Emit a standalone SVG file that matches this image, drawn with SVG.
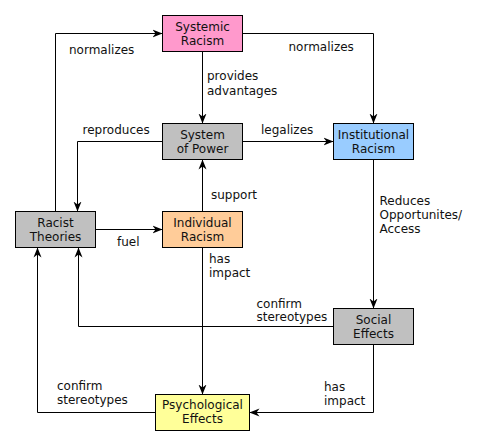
<svg xmlns="http://www.w3.org/2000/svg" width="486" height="446" viewBox="0 0 486 446">
<style>
.box{stroke:#000;stroke-width:1}
.t{font-family:"DejaVu Sans",sans-serif;font-size:12px;fill:#111}
.c{text-anchor:middle}
.ln{fill:none;stroke:#000;stroke-width:1;marker-end:url(#ah)}
</style>
<defs>
<marker id="ah" viewBox="0 0 10 10" refX="10" refY="5" markerWidth="10" markerHeight="10" markerUnits="userSpaceOnUse" orient="auto">
<path d="M0,1 L10,5 L0,9 L3,5 z" fill="#000"/>
</marker>
</defs>
<rect width="486" height="446" fill="#fff"/>
<g id="connectors">
<path class="ln" d="M55.5,211.5 V33.5 H162.5"/>
<path class="ln" d="M242.5,33.5 H373.5 V123.5"/>
<path class="ln" d="M202.5,51.5 V123.5"/>
<path class="ln" d="M162.5,141.5 H77.5 V211.5"/>
<path class="ln" d="M242.5,141.5 H333.5"/>
<path class="ln" d="M202.5,211.5 V159.5"/>
<path class="ln" d="M95.5,229.5 H162.5"/>
<path class="ln" d="M373.5,159.5 V308.5"/>
<path class="ln" d="M202.5,247.5 V394.5"/>
<path class="ln" d="M333.5,326.5 H78.5 V247.5"/>
<path class="ln" d="M373.5,344.5 V412.5 H249.5"/>
<path class="ln" d="M155.5,412.5 H37.5 V247.5"/>
<text class="t" x="69" y="54">normalizes</text>
<text class="t" x="288.5" y="51">normalizes</text>
<text class="t" x="207" y="80">provides</text>
<text class="t" x="207" y="94.5">advantages</text>
<text class="t" x="82.5" y="133.5">reproduces</text>
<text class="t" x="261" y="133.5">legalizes</text>
<text class="t" x="211" y="198.5">support</text>
<text class="t" x="117" y="245.5">fuel</text>
<text class="t" x="209" y="262.5">has</text>
<text class="t" x="209" y="276.5">impact</text>
<text class="t" x="379.5" y="205">Reduces</text>
<text class="t" x="379.5" y="219">Opportunites/</text>
<text class="t" x="379.5" y="233">Access</text>
<text class="t" x="256.5" y="307.5">confirm</text>
<text class="t" x="256.5" y="321">stereotypes</text>
<text class="t" x="324" y="391">has</text>
<text class="t" x="324" y="404.5">impact</text>
<text class="t" x="57" y="390">confirm</text>
<text class="t" x="57" y="404">stereotypes</text>
</g>
<g id="systemic">
<rect class="box" x="162.5" y="15.5" width="80" height="36" fill="#ff99cc"/>
<text class="t c" x="202.5" y="30.5">Systemic</text>
<text class="t c" x="202.5" y="44.5">Racism</text>
</g>
<g id="power">
<rect class="box" x="162.5" y="123.5" width="80" height="36" fill="#c0c0c0"/>
<text class="t c" x="202.5" y="138.5">System</text>
<text class="t c" x="202.5" y="152.5">of Power</text>
</g>
<g id="institutional">
<rect class="box" x="333.5" y="123.5" width="80" height="36" fill="#99ccff"/>
<text class="t c" x="373.5" y="138.5">Institutional</text>
<text class="t c" x="373.5" y="152.5">Racism</text>
</g>
<g id="racist">
<rect class="box" x="15.5" y="211.5" width="80" height="36" fill="#c0c0c0"/>
<text class="t c" x="55.5" y="226.5">Racist</text>
<text class="t c" x="55.5" y="240.5">Theories</text>
</g>
<g id="individual">
<rect class="box" x="162.5" y="211.5" width="80" height="36" fill="#ffcc99"/>
<text class="t c" x="202.5" y="226.5">Individual</text>
<text class="t c" x="202.5" y="240.5">Racism</text>
</g>
<g id="social">
<rect class="box" x="333.5" y="308.5" width="80" height="36" fill="#c0c0c0"/>
<text class="t c" x="373.5" y="323.5">Social</text>
<text class="t c" x="373.5" y="337.5">Effects</text>
</g>
<g id="psych">
<rect class="box" x="155.5" y="394.5" width="94" height="36" fill="#ffff99"/>
<text class="t c" x="202.5" y="409">Psychological</text>
<text class="t c" x="202.5" y="423">Effects</text>
</g>
</svg>
